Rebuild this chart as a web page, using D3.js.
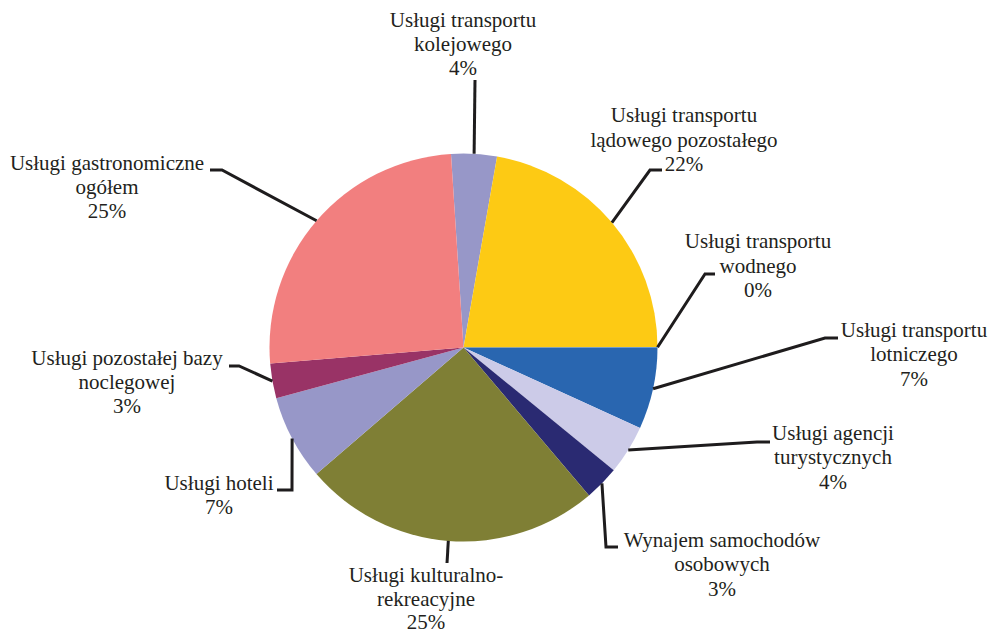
<!DOCTYPE html>
<html><head><meta charset="utf-8">
<script src="https://cdn.jsdelivr.net/npm/d3@7"></script>
<style>body{margin:0;background:#fff}svg{display:block}</style>
</head><body>
<svg id="c" width="990" height="633"></svg>
<script>
const categories = [
  ["Usługi transportu","kolejowego"],
  ["Usługi transportu","lądowego pozostałego"],
  ["Usługi transportu","wodnego"],
  ["Usługi transportu","lotniczego"],
  ["Usługi agencji","turystycznych"],
  ["Wynajem samochodów","osobowych"],
  ["Usługi kulturalno-","rekreacyjne"],
  ["Usługi hoteli"],
  ["Usługi pozostałej bazy","noclegowej"],
  ["Usługi gastronomiczne","ogółem"]
];
const values = [3.8, 22.2, 0.05, 6.8, 4.1, 2.9, 24.9, 7.1, 2.9, 25.3];
const colors = ["#9797c8","#fdca14","#5b9bd5","#2966b0","#cccbe8","#2a2a72","#7f7f35","#9797c8","#993366","#f27f7f"];

// label layout: [centerX, firstBaseline, lineStep, leader points...]
const labelPos = [
  [463, 27, 24.2, [[475,80]]],
  [684, 122, 24.5, [[650,170],[662,170]]],
  [758, 248, 24.5, [[705,274],[715,274]]],
  [914, 337, 24.3, [[825,338],[838,338]]],
  [833, 440, 24.3, [[757,442],[770,442]]],
  [722, 547, 24.3, [[606,547],[618,547]]],
  [426, 582, 23.5, [[447,563]]],
  [219, 490, 23.5, [[292,490],[277,490]]],
  [127, 365, 24.0, [[239,366],[229,366]]],
  [107, 170, 24.0, [[222,170],[210,170]]]
];

const svg = d3.select("#c");
const cx = 463.5, cy = 347.5, R = 194;
const start = -3.7 * Math.PI / 180;
const pie = d3.pie().sort(null).value(d => d).startAngle(start).endAngle(start + 2*Math.PI);
const arcs = pie(values);
const arc = d3.arc().innerRadius(0).outerRadius(R);
const g = svg.append("g").attr("transform", `translate(${cx},${cy})`);
g.selectAll("path").data(arcs).join("path")
  .attr("d", arc).attr("fill", (d,i) => colors[i]);

const fmt = d3.format(".0%");
const line = d3.line();
arcs.forEach((a, i) => {
  const mid = (a.startAngle + a.endAngle) / 2;
  const sx = cx + R * Math.sin(mid), sy = cy - R * Math.cos(mid);
  const pts = [[sx, sy]].concat(labelPos[i][3]);
  svg.append("path").attr("d", line(pts)).attr("fill","none")
    .attr("stroke","#1e1c1d").attr("stroke-width",3).attr("stroke-linejoin","miter");
});
const lg = svg.append("g")
  .style("font-family", '"Times New Roman"')
  .style("font-size", "21px");
arcs.forEach((a, i) => {
  const lines = categories[i].concat([fmt(values[i]/100)]);
  lines.forEach((s, k) => {
    lg.append("text").attr("text-anchor","middle")
      .attr("x", labelPos[i][0]).attr("y", labelPos[i][1] + k*labelPos[i][2])
      .style("font-family", '"Times New Roman"')
      .style("fill","#231f20").text(s);
  });
});
</script>
</body></html>
